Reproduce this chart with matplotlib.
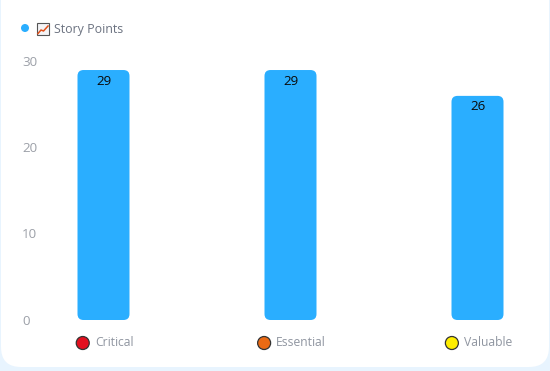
import matplotlib
matplotlib.use("Agg")
import matplotlib.pyplot as plt
from matplotlib.patches import FancyBboxPatch, Circle, Rectangle

categories = ["Critical", "Essential", "Valuable"]
story_points = [29, 29, 26]
cat_colors = ["#e2101f", "#ea6a14", "#ffee00"]
y_ticks = [0, 10, 20, 30]
series_name = "Story Points"

plt.rcParams['font.family'] = ['Open Sans', 'DejaVu Sans']

W = 550
H = 371
fig = plt.figure(figsize=(W/100, H/100), dpi=100)
fig.patch.set_facecolor("#e8f4fe")

# pixel layer for the card and legend
bg = fig.add_axes([0, 0, 1, 1])
bg.set_xlim(0, W)
bg.set_ylim(H, 0)
bg.axis("off")
bg.add_patch(FancyBboxPatch((1, -40), 548, 407, boxstyle="round,pad=0,rounding_size=20", fc="white", ec="none"))

bg.add_patch(Circle((25, 28), 4, fc="#2aaeff", ec="none"))
bg.add_patch(Rectangle((36.5, 23), 12, 12, fc="#f4f4f6", ec="#555555", lw=0.8))
bg.plot([38, 41, 43.5, 48], [33.5, 30, 31, 26], color="#e2501a", lw=1.1)
bg.text(54, 29.5, series_name, fontsize=8.9, color="#6b7280", va="center", ha="left")

# bars: y=0 at 320px, 8.62px per unit, 187px per category
top = 320 - 30*8.62
ax = fig.add_axes([10/W, 1 - 320/H, 530/W, (320-top)/H])
ax.patch.set_alpha(0)
ax.set_xlim(-0.5, (540-103.5)/187)
ax.set_ylim(0, 30)
for s in ax.spines.values():
    s.set_visible(False)
ax.set_xticks([])
ax.set_yticks([])

bar_w = 52/187
aspect = 187/8.62
for i, v in enumerate(story_points):
    ax.add_patch(FancyBboxPatch((i-bar_w/2, 0), bar_w, v, boxstyle="round,pad=0,rounding_size=%f" % (6/187),
                                mutation_aspect=aspect, fc="#2aaeff", ec="none"))
    ax.annotate(str(v), (i, v), xytext=(0, -8), textcoords="offset points", ha="center", va="center",
                fontsize=9.6, color="#0a0a0a")

for t in y_ticks:
    ax.annotate(str(t), (0, t), xycoords=("axes fraction", "data"), xytext=(12/100*72, -0.8), textcoords="offset points",
                ha="left", va="center", fontsize=9.6, color="#9ca0a8")

# category labels with colored dot, centered as a group under the bar
fig.canvas.draw()
rend = fig.canvas.get_renderer()
for i, c in enumerate(categories):
    xpix = ax.transData.transform((i, 0))[0]
    t = bg.text(xpix, 343, c, fontsize=8.7, color="#8f95a0", va="center", ha="left")
    tw = t.get_window_extent(rend).width
    left = xpix - (tw + 18)/2
    t.set_x(left + 19.5)
    bg.add_patch(Circle((left + 7.5, 343), 6.5, fc=cat_colors[i], ec="#333333", lw=0.9))

fig.savefig("out.png", dpi=100)
